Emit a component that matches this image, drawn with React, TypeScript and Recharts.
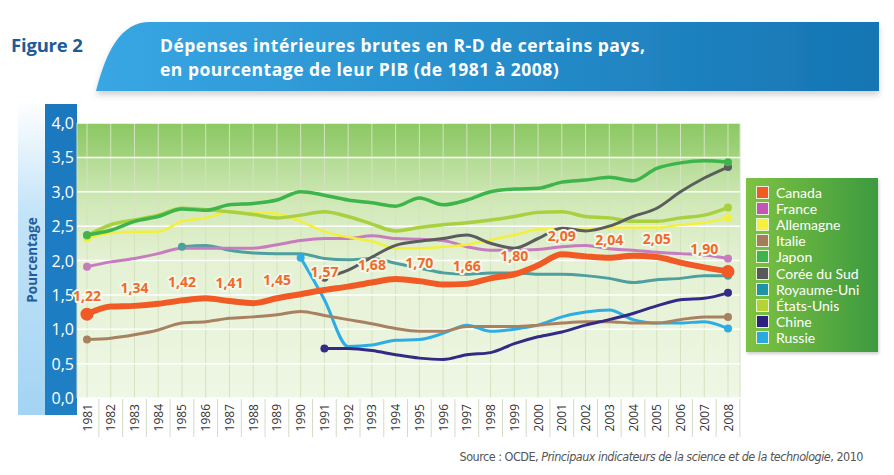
import { LineChart, Line, XAxis, YAxis, CartesianGrid, LabelList } from 'recharts'

// Années (axe X)
const years = [
  '1981', '1982', '1983', '1984', '1985', '1986', '1987', '1988', '1989', '1990',
  '1991', '1992', '1993', '1994', '1995', '1996', '1997', '1998', '1999', '2000',
  '2001', '2002', '2003', '2004', '2005', '2006', '2007', '2008',
]

const yTicks = [0, 0.5, 1, 1.5, 2, 2.5, 3, 3.5, 4]

// DIRD en % du PIB
const canada = [1.22, 1.33, 1.34, 1.37, 1.42, 1.45, 1.41, 1.38, 1.45, 1.51, 1.57, 1.62, 1.68, 1.73, 1.70, 1.65, 1.66, 1.74, 1.80, 1.93, 2.09, 2.06, 2.04, 2.07, 2.05, 1.97, 1.90, 1.84]
const france = [1.91, 1.98, 2.03, 2.10, 2.18, 2.18, 2.18, 2.18, 2.23, 2.29, 2.32, 2.32, 2.36, 2.32, 2.31, 2.29, 2.20, 2.15, 2.15, 2.16, 2.20, 2.22, 2.17, 2.15, 2.12, 2.10, 2.08, 2.03]
const allemagne = [2.32, 2.40, 2.42, 2.42, 2.57, 2.62, 2.71, 2.70, 2.68, 2.57, 2.42, 2.34, 2.28, 2.18, 2.18, 2.20, 2.23, 2.30, 2.37, 2.45, 2.46, 2.45, 2.48, 2.48, 2.48, 2.52, 2.55, 2.62]
const italie = [0.85, 0.87, 0.92, 0.99, 1.09, 1.11, 1.16, 1.18, 1.21, 1.26, 1.20, 1.14, 1.08, 1.01, 0.97, 0.97, 1.04, 1.04, 1.04, 1.06, 1.09, 1.11, 1.11, 1.09, 1.09, 1.14, 1.18, 1.18]
const japon = [2.37, 2.44, 2.57, 2.64, 2.75, 2.73, 2.81, 2.83, 2.88, 3.00, 2.95, 2.88, 2.84, 2.79, 2.91, 2.81, 2.88, 3.00, 3.04, 3.05, 3.14, 3.17, 3.21, 3.16, 3.34, 3.42, 3.45, 3.43]
const coree = [null, null, null, null, null, null, null, null, null, null, 1.75, 1.86, 2.05, 2.22, 2.28, 2.32, 2.37, 2.25, 2.18, 2.32, 2.47, 2.43, 2.50, 2.64, 2.76, 3.00, 3.20, 3.36]
const royaumeUni = [null, null, null, null, 2.20, 2.22, 2.15, 2.11, 2.10, 2.10, 2.03, 2.01, 2.03, 1.96, 1.89, 1.82, 1.80, 1.82, 1.82, 1.80, 1.80, 1.78, 1.74, 1.68, 1.72, 1.74, 1.78, 1.78]
const etatsUnis = [2.36, 2.52, 2.59, 2.66, 2.76, 2.74, 2.71, 2.67, 2.62, 2.66, 2.71, 2.64, 2.53, 2.43, 2.48, 2.52, 2.55, 2.59, 2.64, 2.70, 2.71, 2.64, 2.62, 2.57, 2.57, 2.62, 2.66, 2.77]
const chine = [null, null, null, null, null, null, null, null, null, null, 0.72, 0.72, 0.69, 0.63, 0.58, 0.56, 0.63, 0.66, 0.79, 0.89, 0.96, 1.06, 1.14, 1.23, 1.34, 1.43, 1.45, 1.53]
const russie = [null, null, null, null, null, null, null, null, null, 2.04, 1.43, 0.75, 0.77, 0.84, 0.85, 0.94, 1.06, 0.97, 1.00, 1.06, 1.18, 1.25, 1.28, 1.14, 1.09, 1.09, 1.11, 1.01]

// années où la valeur du Canada est affichée
const canadaLabelYears = ['1981', '1983', '1985', '1987', '1989', '1991', '1993', '1995', '1997', '1999', '2001', '2003', '2005', '2007']

// ordre de tracé (le Canada en dernier, par-dessus)
const series = [
  { key: 'russie', name: 'Russie', values: russie, color: '#2dade3', swatch: '#29a9e0', width: 3 },
  { key: 'italie', name: 'Italie', values: italie, color: '#a88160', swatch: '#a57c5b', width: 3 },
  { key: 'chine', name: 'Chine', values: chine, color: '#332a86', swatch: '#2b2280', width: 3 },
  { key: 'royaumeUni', name: 'Royaume-Uni', values: royaumeUni, color: '#4f9f9f', swatch: '#1d93a5', width: 3 },
  { key: 'france', name: 'France', values: france, color: '#c77cc0', swatch: '#c355b5', width: 3 },
  { key: 'allemagne', name: 'Allemagne', values: allemagne, color: '#f3ef3e', swatch: '#f7f03c', width: 2.5 },
  { key: 'etatsUnis', name: 'États-Unis', values: etatsUnis, color: '#a9d03f', swatch: '#b6d336', width: 3.5 },
  { key: 'coree', name: 'Corée du Sud', values: coree, color: '#5b5c5e', swatch: '#58585a', width: 3 },
  { key: 'japon', name: 'Japon', values: japon, color: '#3db54b', swatch: '#3cb54a', width: 3.5 },
  { key: 'canada', name: 'Canada', values: canada, color: '#f15a24', swatch: '#f15a24', width: 6 },
]

const legendOrder = ['canada', 'france', 'allemagne', 'italie', 'japon', 'coree', 'royaumeUni', 'etatsUnis', 'chine', 'russie']

const data = years.map((year, i) => {
  const row: Record<string, any> = { year }
  series.forEach(s => { row[s.key] = s.values[i] })
  return row
})

const fmt = (v: number, d: number) => v.toFixed(d).replace('.', ',')

const HALF_STEP = 11.87

const endDot = (values: (number | null)[], color: string, r: number) => (props: any) => {
  const { cx, cy, index } = props
  const first = values.findIndex(v => v != null)
  let last = values.length - 1
  while (last > 0 && values[last] == null) last--
  if ((index !== first && index !== last) || cx == null || cy == null) return <g key={`d-${index}`} />
  return <circle key={`d-${index}`} cx={cx} cy={cy} r={r} fill={color} />
}

const YTick = (props: any) => {
  const { y, payload } = props
  return (
    <text x={74} y={y} textAnchor="end" dominantBaseline="central" fill="#ffffff" fontSize={16} fontFamily="'Open Sans', sans-serif">
      {fmt(payload.value, 1)}
    </text>
  )
}

const XTick = (props: any) => {
  const { x, payload } = props
  return (
    <g>
      <line x1={x + HALF_STEP} x2={x + HALF_STEP} y1={399} y2={437} stroke="#d3dcc4" strokeWidth={1} />
      <text x={x} y={404} transform={`rotate(-90 ${x} 404)`} textAnchor="end" dominantBaseline="central" fill="#333" fontSize={12} fontFamily="'Open Sans', sans-serif">
        {payload.value}
      </text>
    </g>
  )
}

const CanadaLabel = (props: any) => {
  const { x, y, value, index } = props
  if (!canadaLabelYears.includes(years[index])) return null
  return (
    <text x={x} y={y - 13} textAnchor="middle" fill="#f06a2a" fontSize={14} fontWeight={700}
      fontFamily="'Open Sans', sans-serif" stroke="#f3f8ea" strokeWidth={4} paintOrder="stroke" strokeLinejoin="round">
      {fmt(value, 2)}
    </text>
  )
}

const titleLine = { position: 'absolute' as const, left: 160, color: '#fff', fontWeight: 700, fontSize: 17.5, lineHeight: '24px', letterSpacing: 0.5, whiteSpace: 'nowrap' as const }

export default function App() {
  return (
    <div style={{ position: 'absolute', left: 0, top: 0, width: 894, height: 475, background: '#fff', overflow: 'hidden', fontFamily: "'Open Sans', sans-serif" }}>
      {/* Bandeau du titre */}
      <svg width={894} height={110} style={{ position: 'absolute', left: 0, top: 0 }}>
        <defs>
          <linearGradient id="banner" x1="0" y1="0" x2="1" y2="0">
            <stop offset="0%" stopColor="#38a7e4" />
            <stop offset="100%" stopColor="#1675b3" />
          </linearGradient>
          <filter id="shadow" x="-5%" y="-20%" width="110%" height="160%">
            <feDropShadow dx="0" dy="4" stdDeviation="3" floodColor="#000" floodOpacity="0.18" />
          </filter>
        </defs>
        <path d="M 96 91 C 106 52, 120 22, 150 22 L 879 22 L 879 91 Z" fill="url(#banner)" filter="url(#shadow)" />
      </svg>
      <div style={{ position: 'absolute', left: 11, top: 33, lineHeight: '24px', color: '#1d5b98', fontWeight: 700, fontSize: 18.5, letterSpacing: -0.2 }}>Figure 2</div>
      <div style={{ ...titleLine, top: 33 }}>Dépenses intérieures brutes en R-D de certains pays,</div>
      <div style={{ ...titleLine, top: 57 }}>en pourcentage de leur PIB (de 1981 à 2008)</div>

      {/* Bandes de l'axe Y */}
      <div style={{ position: 'absolute', left: 18, top: 100, width: 27, height: 315, background: 'linear-gradient(to bottom, rgba(190,225,248,0) 0%, #c4e4f8 35%, #a3d4f3 100%)' }} />
      <div style={{ position: 'absolute', left: 45, top: 104, width: 32, height: 311, background: 'linear-gradient(to bottom, #1b78bf, #1f80c6)' }} />
      <div style={{ position: 'absolute', left: 32, top: 260, transform: 'translate(-50%, -50%) rotate(-90deg)', color: '#1e5e9e', fontWeight: 700, fontSize: 13.5, whiteSpace: 'nowrap' }}>
        Pourcentage
      </div>

      <LineChart width={894} height={475} data={data} margin={{ top: 123, right: 154, bottom: 37, left: 45 }}
        style={{ position: 'absolute', left: 0, top: 0 }}>
        <defs>
          <linearGradient id="plotBg" x1="0" y1="0" x2="0" y2="1">
            <stop offset="0%" stopColor="#8cc864" />
            <stop offset="12.4%" stopColor="#a2d37d" />
            <stop offset="12.6%" stopColor="#b3db94" />
            <stop offset="30%" stopColor="#d2e9b9" />
            <stop offset="50%" stopColor="#e4f1d3" />
            <stop offset="100%" stopColor="#eff7e5" />
          </linearGradient>
        </defs>
        <CartesianGrid fill="url(#plotBg)" horizontal={false} stroke="#d4e2c0" strokeWidth={1} />
        <CartesianGrid vertical={false} stroke="#ffffff" strokeWidth={1.5} />
        <XAxis dataKey="year" interval={0} height={40} axisLine={false} tickLine={false}
          padding={{ left: 10, right: 12 }} tick={<XTick />} />
        <YAxis domain={[0, 4]} ticks={yTicks} width={32} axisLine={false} tickLine={false} tick={<YTick />} />
        {series.map(s => (
          <Line key={s.key} type="monotone" dataKey={s.key} stroke={s.color} strokeWidth={s.width}
            dot={endDot(s.values, s.color, s.key === 'canada' ? 6.5 : 4)} activeDot={false}
            connectNulls={false} isAnimationActive={false}>
            {s.key === 'canada' && <LabelList dataKey="canada" content={<CanadaLabel />} />}
          </Line>
        ))}
      </LineChart>

      {/* Légende */}
      <div style={{ position: 'absolute', left: 746, top: 178, width: 132, height: 174, boxSizing: 'border-box', padding: '6px 0 0 10px',
        background: 'linear-gradient(to right, #7fc242, #3d9a3f)', boxShadow: '1px 2px 3px rgba(0,0,0,0.2)' }}>
        {legendOrder.map(k => {
          const s = series.find(x => x.key === k)!
          return (
            <div key={k} style={{ display: 'flex', alignItems: 'center', height: 16.2, color: '#fff', fontSize: 14, fontFamily: "Lato, 'Open Sans', sans-serif" }}>
              <span style={{ width: 11, height: 11, background: s.swatch, border: '1px solid #e8f3d8', marginRight: 7, flex: 'none' }} />
              {s.name}
            </div>
          )
        })}
      </div>

      <div style={{ position: 'absolute', right: 31, top: 449, color: '#555', fontSize: 12.5, letterSpacing: -0.5, whiteSpace: 'nowrap', fontFamily: "'Liberation Sans Narrow', 'DejaVu Sans Condensed', sans-serif" }}>
        Source : OCDE, <i>Principaux indicateurs de la science et de la technologie</i>, 2010
      </div>
    </div>
  )
}
